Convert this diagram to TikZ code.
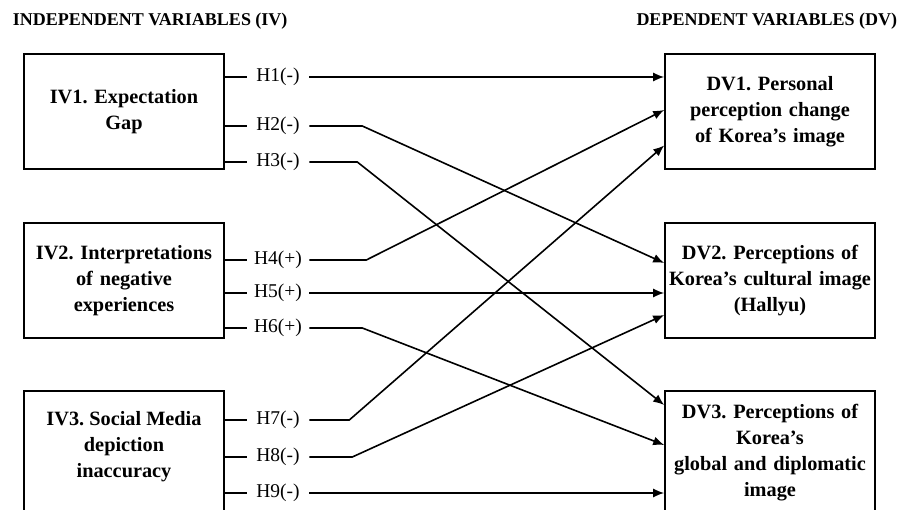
\documentclass[tikz,border=0pt]{standalone}
\usepackage{fontspec}
\setmainfont{Liberation Serif}
\frenchspacing
\usetikzlibrary{arrows.meta}
\tikzset{
  boxtext/.style = {align=center, inner sep=0pt, text centered, font=\fontsize{20.3}{26}\selectfont\bfseries},
  % var boxes: IV on the left, DV on the right
  var_IV/.style = {boxtext, rectangle, draw=black, line width=1.6pt, inner xsep=3pt, text width=194pt, minimum width=200pt, minimum height=115pt},
  var_DV/.style = {var_IV, text width=204pt, minimum width=210pt},
  hyp_H/.style = {inner sep=0pt, minimum width=61pt, minimum height=20pt, font=\fontsize{19.5}{22}\selectfont},
  title_V/.style = {inner sep=0pt, font=\fontsize{18}{20}\selectfont\bfseries}
%  hyp_x/.style = {hyp_H, draw=black}
}
\begin{document}
\begin{tikzpicture}[x=1pt,y=-1pt,
    line width=1.6pt,
    >={Latex[length=11pt,width=9pt]}
    ]
    \useasboundingbox (0,0) rectangle (901,510);
    \clip (0,0) rectangle (901,510);
    % Titles:
    \node [title_V, anchor=west] (ivtitle) at (12,21) {INDEPENDENT VARIABLES (IV)};
    \node [title_V, anchor=east] (dvtitle) at (898,21) {DEPENDENT VARIABLES (DV)};
    % IV boxes:
    \node [var_IV] (iv1) at (124,111.5) {IV1. Expectation\\Gap};
    \node [var_IV] (iv2) at (124,280.5) {IV2. Interpretations\\of negative\\experiences};
    \node [var_IV, minimum height=124pt] (iv3) at (124,453) {};
    \node [boxtext] (iv3text) at (124,447) {IV3. Social Media\\depiction\\inaccuracy};
    % DV boxes:
    \node [var_DV] (dv1) at (770,111.5) {DV1. Personal\\perception change\\of Korea’s image};
    \node [var_DV] (dv2) at (770,280.5) {DV2. Perceptions of\\Korea’s cultural image\\(Hallyu)};
    \node [var_DV, minimum height=124pt] (dv3) at (770,453) {DV3. Perceptions of\\Korea’s\\global and diplomatic\\image};
    % Hypotheses:
    \node [hyp_H] (h1) at (278,77) {H1(-)};
    \node [hyp_H] (h2) at (278,126) {H2(-)};
    \node [hyp_H] (h3) at (278,162) {H3(-)};
    \node [hyp_H] (h4) at (278,260) {H4(+)};
    \node [hyp_H] (h5) at (278,293) {H5(+)};
    \node [hyp_H] (h6) at (278,328) {H6(+)};
    \node [hyp_H] (h7) at (278,420) {H7(-)};
    \node [hyp_H] (h8) at (278,457) {H8(-)};
    \node [hyp_H] (h9) at (278,493) {H9(-)};
    % stubs from the IV boxes:
    \draw (iv1.east |- h1) -- (h1.west);
    \draw (iv1.east |- h2) -- (h2.west);
    \draw (iv1.east |- h3) -- (h3.west);
    \draw (iv2.east |- h4) -- (h4.west);
    \draw (iv2.east |- h5) -- (h5.west);
    \draw (iv2.east |- h6) -- (h6.west);
    \draw (iv3.east |- h7) -- (h7.west);
    \draw (iv3.east |- h8) -- (h8.west);
    \draw (iv3.east |- h9) -- (h9.west);
    % paths to the DV boxes:
    \draw [->] (h1.east) -- (dv1.west |- h1);
    \draw [->] (h2.east) -- ++(53,0) -- ([yshift=17.5pt]dv2.west);
    \draw [->] (h3.east) -- ++(48,0) -- ([yshift=48pt]dv3.west);
    \draw [->] (h4.east) -- ++(57,0) -- ([yshift=1.5pt]dv1.west);
    \draw [->] (h5.east) -- (dv2.west |- h5);
    \draw [->] (h6.east) -- ++(53,0) -- ([yshift=8pt]dv3.west);
    \draw [->] (h7.east) -- ++(40,0) -- ([yshift=-34pt]dv1.west);
    \draw [->] (h8.east) -- ++(43,0) -- ([yshift=-34.5pt]dv2.west);
    \draw [->] (h9.east) -- (dv3.west |- h9);
\end{tikzpicture}
\end{document}
